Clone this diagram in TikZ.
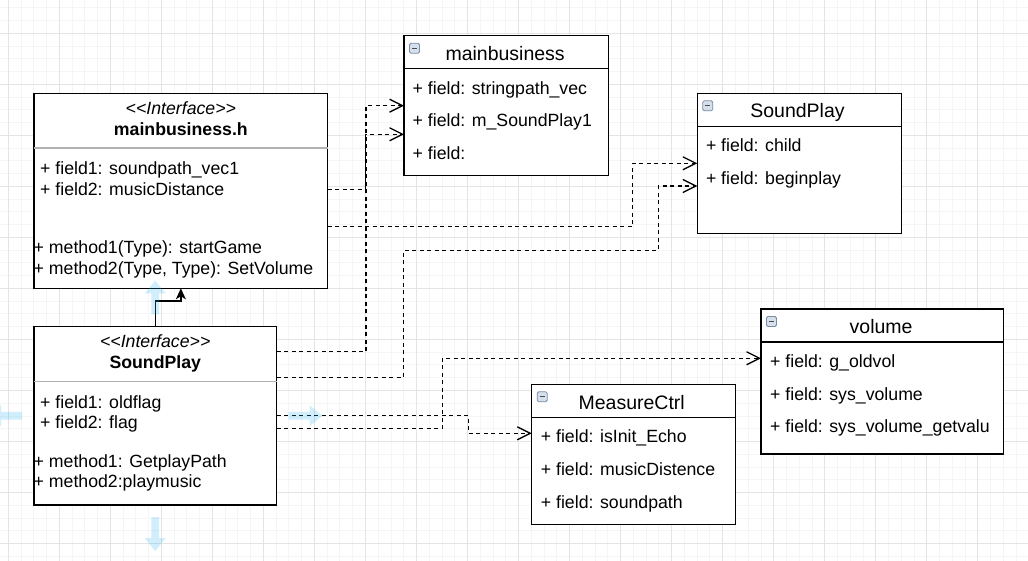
\documentclass[tikz,border=0pt]{standalone}
\usepackage{fontspec}
\setmainfont{Liberation Sans}
\usepackage{xcolor}
\usepackage{tikz}
\usetikzlibrary{arrows.meta}
\usetikzlibrary{calc}

\definecolor{gridminor}{RGB}{245,245,245}
\definecolor{gridmajor}{RGB}{228,228,228}
\definecolor{sepgray}{RGB}{178,178,178}
\definecolor{hoverblue}{RGB}{41,182,242}
\definecolor{iconedge}{RGB}{120,140,165}
\definecolor{iconfill}{RGB}{214,224,236}

\begin{document}
\begin{tikzpicture}[x=1pt, y=-1pt,
	classbox/.style={draw=black, fill=white, line width=1.3pt, anchor=north west, inner sep=0pt, outer sep=0pt},
	field/.style={anchor=west, inner sep=0pt, font=\fontsize{17.7}{21}\selectfont, text height=12.7pt, text depth=0pt},
	ctitle/.style={inner sep=0pt, font=\fontsize{19.5}{23}\selectfont, text height=14pt, text depth=0pt},
	stereo/.style={inner sep=0pt, font=\fontsize{17.7}{21}\selectfont\itshape, text height=12.7pt, text depth=0pt},
	ititle/.style={inner sep=0pt, font=\fontsize{17.7}{21}\selectfont\bfseries, text height=12.7pt, text depth=0pt},
	dep/.style={line width=1.3pt, dash pattern=on 4pt off 3.5pt, -{Straight Barb[length=13pt, width=13pt]}},
	realize/.style={line width=1.3pt, -{Stealth[length=11pt, width=10pt, inset=3pt]}},
	hover/.style={fill=hoverblue, fill opacity=0.22},
	icon/.style={draw=iconedge, fill=iconfill, line width=0.8pt, rounded corners=1.5pt}]

	% canvas and grid
	\useasboundingbox (0,0) rectangle (1028,561);
	\clip (0,0) rectangle (1028,561);
	\fill[white] (0,0) rectangle (1028,561);
	\foreach \m in {0,...,80}
		\draw[gridminor, line width=1pt] ({8.3+12.7575*\m},0) -- ++(0,561);
	\foreach \m in {-2,...,41}
		\draw[gridminor, line width=1pt] (0,{33.3+12.7575*\m}) -- ++(1028,0);
	\foreach \m in {0,...,20}
		\draw[gridmajor, line width=1pt] ({8.3+51.03*\m},0) -- ++(0,561);
	\foreach \m in {-1,...,10}
		\draw[gridmajor, line width=1pt] (0,{33.3+51.03*\m}) -- ++(1028,0);

	% interfaces
	\node[classbox, minimum width=293.7pt, minimum height=195pt] (A) at (34,93.3) {};
	\draw[sepgray, line width=1.3pt] ($(A.north west)+(0,54.7)$) -- ($(A.north east)+(0,54.7)$);
	\node[stereo] (Ast) at ($(A.north)+(0,14.7)$) {<\kern0pt<Interface>\kern0pt>};
	\node[ititle] (At) at ($(A.north)+(0,36)$) {mainbusiness.h};
	\node[field] (Af1) at ($(A.north west)+(6,74.7)$) {+ field1: soundpath\_vec1};
	\node[field] (Af2) at ($(A.north west)+(6,95.4)$) {+ field2: musicDistance};
	\node[field] (Am1) at ($(A.north west)+(-0.5,153.4)$) {+ method1(Type): startGame};
	\node[field] (Am2) at ($(A.north west)+(-0.5,174.4)$) {+ method2(Type, Type): SetVolume};

	\node[classbox, minimum width=242.5pt, minimum height=178.5pt] (B) at (34,326.5) {};
	\draw[sepgray, line width=1.3pt] ($(B.north west)+(0,55.2)$) -- ($(B.north east)+(0,55.2)$);
	\node[stereo] (Bst) at ($(B.north)+(0,14.5)$) {<\kern0pt<Interface>\kern0pt>};
	\node[ititle] (Bt) at ($(B.north)+(0,35.5)$) {SoundPlay};
	\node[field] (Bf1) at ($(B.north west)+(6,75.5)$) {+ field1: oldflag};
	\node[field] (Bf2) at ($(B.north west)+(6,95.5)$) {+ field2: flag};
	\node[field] (Bm1) at ($(B.north west)+(-0.5,134.5)$) {+ method1: GetplayPath};
	\node[field] (Bm2) at ($(B.north west)+(-0.5,154.5)$) {+ method2:playmusic};

	% classes
	\node[classbox, minimum width=204.3pt, minimum height=140pt] (C) at (404,35.7) {};
	\node[classbox, minimum width=204.4pt, minimum height=140pt] (D) at (697.3,93.3) {};
	\node[classbox, minimum width=242.3pt, minimum height=145pt] (E) at (761,309) {};
	\node[classbox, minimum width=204pt, minimum height=140pt] (F) at (531.7,384.3) {};
	\foreach \c in {C,D,E,F}{
		\draw[line width=1.3pt] ($(\c.north west)+(0,33)$) -- ($(\c.north east)+(0,33)$);
		\draw[icon] ($(\c.north west)+(5.5,7.5)$) rectangle ++(10,10);
		\draw[line width=1.2pt, black!70] ($(\c.north west)+(8,12.5)$) -- ++(5,0);
	}
	\node[ctitle] (Ct) at ($(C.north)+(-1,17.7)$) {mainbusiness};
	\node[ctitle] (Dt) at ($(D.north)+(-2,17.7)$) {SoundPlay};
	\node[ctitle] (Et) at ($(E.north)+(-1,17.7)$) {volume};
	\node[ctitle] (Ft) at ($(F.north)+(-2,17.7)$) {MeasureCtrl};
	\foreach \txt [count=\i] in {stringpath\_vec, m\_SoundPlay1, {}}
		\node[field] (C\i) at ($(C.north west)+(8.5,{52+32.7*(\i-1)})$) {+ field: \txt};
	\foreach \txt [count=\i] in {child, beginplay}
		\node[field] (D\i) at ($(D.north west)+(8.5,{52+32.7*(\i-1)})$) {+ field: \txt};
	\foreach \txt [count=\i] in {g\_oldvol, sys\_volume, sys\_volume\_getvalu}
		\node[field] (E\i) at ($(E.north west)+(9,{52+32.7*(\i-1)})$) {+ field: \txt};
	\foreach \txt [count=\i] in {isInit\_Echo, musicDistence, soundpath}
		\node[field] (F\i) at ($(F.north west)+(9,{52+32.7*(\i-1)})$) {+ field: \txt};

	% connectors
	\draw[realize] (B.north) -- ++(0,-25.5) -| (A.south);
	\draw[dep] ($(A.north east)+(0,96.2)$) -- ++(38,0) |- ($(C.north west)+(0,98.6)$);
	\draw[dep] ($(B.north east)+(0,25)$) -- ++(89.5,0) |- ($(C.north west)+(0,70)$);
	\draw[dep] ($(A.north east)+(0,133.4)$) -- ++(305,0) |- ($(D.north west)+(0,70)$);
	\draw[dep] ($(B.north east)+(0,50.8)$) -- ++(126.8,0) -- ++(0,-126.6) -- ++(255,0) |- ($(D.north west)+(0,92.7)$);
	\draw[dep] ($(B.north east)+(0,102)$) -- ++(165.8,0) |- ($(E.north west)+(0,49.3)$);
	\draw[dep] ($(B.north east)+(0,89.2)$) -- ++(191.8,0) |- ($(F.north west)+(0,49)$);

	% hover handles round SoundPlay
	\foreach \side/\ang in {north/90, south/-90, east/0, west/180}
		\fill[hover, shift={(B.\side)}, rotate=\ang] (12,-3.8) -- (33,-3.8) -- (33,-10.5) -- (46,0) -- (33,10.5) -- (33,3.8) -- (12,3.8) -- cycle;
\end{tikzpicture}
\end{document}
